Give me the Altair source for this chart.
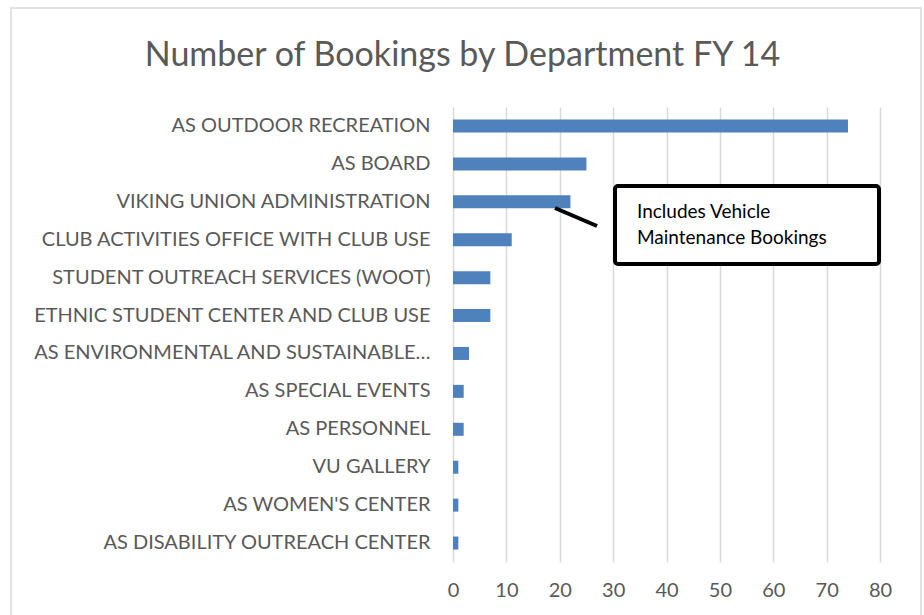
import altair as alt
import pandas as pd

departments = [
    "AS OUTDOOR RECREATION",
    "AS BOARD",
    "VIKING UNION ADMINISTRATION",
    "CLUB ACTIVITIES OFFICE WITH CLUB USE",
    "STUDENT OUTREACH SERVICES (WOOT)",
    "ETHNIC STUDENT CENTER AND CLUB USE",
    "AS ENVIRONMENTAL AND SUSTAINABLE…",
    "AS SPECIAL EVENTS",
    "AS PERSONNEL",
    "VU GALLERY",
    "AS WOMEN'S CENTER",
    "AS DISABILITY OUTREACH CENTER",
]
bookings = [74, 25, 22, 11, 7, 7, 3, 2, 2, 1, 1, 1]
x_ticks = [0, 10, 20, 30, 40, 50, 60, 70, 80]
title_text = "Number of Bookings by Department FY 14"
note_lines = ["Includes Vehicle", "Maintenance Bookings"]

df = pd.DataFrame({"department": departments, "bookings": bookings})
one = pd.DataFrame({"k": [0]})
notes = pd.DataFrame({"line": note_lines, "i": [0, 1]})

FONT = "Lato"
GREY = "#595959"

frame = alt.Chart(one).mark_rect(fill="transparent", stroke="#d9d9d9", strokeWidth=1.5).encode(
    x=alt.value(-442), x2=alt.value(468), y=alt.value(-99), y2=alt.value(520)
)

bars = alt.Chart(df).mark_bar(color="#4f81bd", height=13).encode(
    x=alt.X("bookings:Q",
            scale=alt.Scale(domain=[0, 80], nice=False),
            axis=alt.Axis(values=x_ticks, title=None, grid=True, gridColor="#d9d9d9",
                          gridWidth=1.5, domain=False, ticks=False, labelFont=FONT,
                          labelFontSize=20, labelColor=GREY, labelPadding=18,
                          labelFlush=False)),
    y=alt.Y("department:N", sort=None,
            scale=alt.Scale(paddingInner=0.6, paddingOuter=0.3),
            axis=alt.Axis(title=None, domain=False, ticks=False, labelFont=FONT,
                          labelFontSize=20, labelColor=GREY, labelPadding=23, labelLimit=0)),
)

connector = alt.Chart(one).mark_rule(color="black", strokeWidth=4).encode(
    x=alt.value(102), x2=alt.value(144), y=alt.value(101), y2=alt.value(119)
)

box = alt.Chart(one).mark_rect(fill="white", stroke="black", strokeWidth=4, cornerRadius=3).encode(
    x=alt.value(162), x2=alt.value(426), y=alt.value(79), y2=alt.value(157)
)

note = alt.Chart(notes).mark_text(align="left", baseline="middle", font=FONT,
                                  fontSize=19, color="black").encode(
    x=alt.value(184),
    y=alt.Y("i:Q", scale=alt.Scale(domain=[0, 1], range=[105, 131]), axis=None),
    text="line:N",
)

chart = alt.layer(frame, bars, connector, box, note).resolve_scale(y="independent").properties(
    width=427,
    height=455,
    autosize=alt.AutoSizeParams(type="none"),
    padding={"left": 453, "top": 107, "right": 44, "bottom": 53},
    title=alt.Title(title_text, font=FONT, fontSize=34, fontWeight="normal", color=GREY,
                    anchor="middle", frame="group", dx=-204, offset=-66),
).configure(background="white").configure_view(stroke=None)

chart.save("out.html", embed_options={"renderer": "svg", "actions": False})
